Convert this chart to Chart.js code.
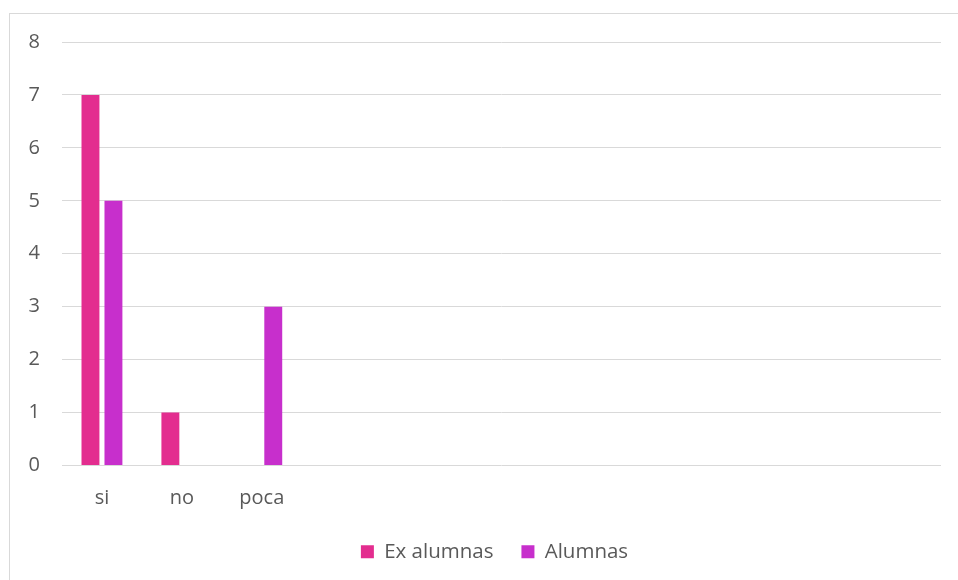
<!DOCTYPE html>
<html>
<head>
<meta charset="utf-8">
<script src="https://cdn.jsdelivr.net/npm/chart.js@4/dist/chart.umd.min.js"></script>
<style>
    html, body { margin: 0; padding: 0; background: #fff; overflow: hidden; }
    #wrap { position: relative; width: 958px; height: 580px; }
    #frame { position: absolute; left: 9px; top: 13px; width: 960px; height: 580px; border: 1px solid #d9d9d9; box-sizing: border-box; }
    canvas { position: absolute; left: 0; top: 0; }
</style>
</head>
<body>
<div id="wrap">
    <div id="frame"></div>
    <canvas id="chart" width="958" height="580"></canvas>
</div>
<script>
// datos
const categorias = ['si', 'no', 'poca', '', '', '', '', '', '', '', ''];
const exAlumnas = [7, 1, 0];
const alumnas = [5, 0, 3];
const ticksY = [0, 1, 2, 3, 4, 5, 6, 7, 8];

const fuente = { family: "'Open Sans', sans-serif", size: 20 };
const gris = '#595959';

const chart = new Chart(document.getElementById('chart'), {
    type: 'bar',
    data: {
        labels: categorias,
        datasets: [
            { label: 'Ex alumnas', data: exAlumnas, backgroundColor: '#e32d8f' },
            { label: 'Alumnas', data: alumnas, backgroundColor: '#c72fcc' }
        ]
    },
    options: {
        responsive: false,
        animation: false,
        devicePixelRatio: 1,
        categoryPercentage: 0.575,
        barPercentage: 0.78,
        layout: { padding: { top: 42, right: 17, left: 0, bottom: 8 } },
        plugins: {
            tooltip: { enabled: false },
            legend: {
                position: 'bottom',
                labels: { boxWidth: 13, boxHeight: 13, padding: 28, color: gris, font: { family: fuente.family, size: 20.5 } }
            }
        },
        scales: {
            x: {
                grid: { display: false },
                border: { display: false },
                ticks: { color: gris, font: fuente, padding: 13, maxRotation: 0, autoSkip: false },
                afterFit: s => { s.height = 48; }
            },
            y: {
                min: 0, max: 8,
                afterBuildTicks: s => { s.ticks = ticksY.map(v => ({ value: v })); },
                grid: { color: '#d9d9d9', lineWidth: 1, drawTicks: false },
                border: { display: false },
                ticks: { color: gris, font: fuente, padding: 22 },
                afterFit: s => { s.width = 62; }
            }
        }
    }
});

// la leyenda del original esta centrada en el marco, un poco a la derecha
const dibujarLeyenda = chart.legend.draw.bind(chart.legend);
chart.legend.draw = function () {
    const ctx = this.ctx;
    ctx.save();
    ctx.translate(24, 0);
    dibujarLeyenda();
    ctx.restore();
};
chart.draw();
</script>
</body>
</html>
